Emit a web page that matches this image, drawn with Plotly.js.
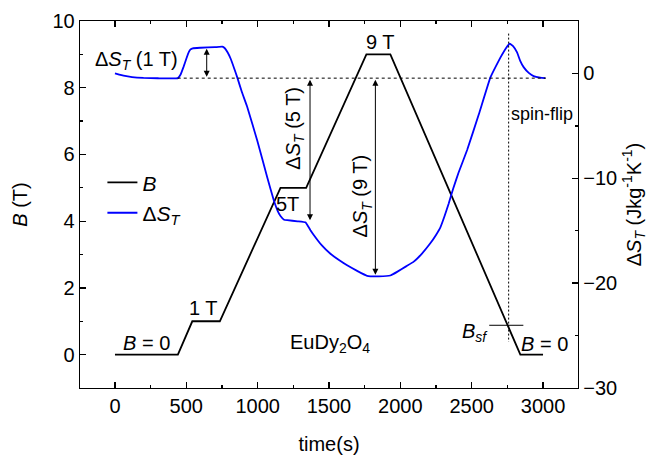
<!DOCTYPE html>
<html>
<head>
<meta charset="utf-8">
<script src="https://cdn.plot.ly/plotly-3.0.1.min.js"></script>
<style>html,body{margin:0;padding:0;background:#fff;}#chart{width:648px;height:458px;}</style>
</head>
<body>
<div id="chart"></div>
<script>
// Magnetic field protocol B(t)
var timeB = [0, 441, 542, 735, 1160, 1340, 1762, 1930, 2841, 3000];
var fieldB = [0, 0, 1, 1, 5, 5, 9, 9, 0, 0];

// Entropy change ΔS_T(t)
var timeS = [0, 30, 60, 120, 200, 300, 441, 460, 480, 500, 518, 530, 545, 600, 700, 752, 770, 790, 811, 835, 857, 890, 927, 997, 1067, 1113, 1140, 1160, 1185, 1207, 1280, 1335, 1350, 1370, 1393, 1450, 1510, 1570, 1627, 1700, 1767, 1850, 1930, 1980, 2040, 2094, 2150, 2210, 2250, 2280, 2310, 2339, 2370, 2407, 2468, 2550, 2631, 2670, 2701, 2740, 2766, 2790, 2818, 2840, 2864, 2900, 2934, 2980, 3016];
var deltaS = [0, -0.12, -0.22, -0.35, -0.43, -0.46, -0.45, -0.1, 0.6, 1.4, 2.05, 2.3, 2.4, 2.45, 2.5, 2.55, 2.4, 2.0, 1.4, 0.5, -0.38, -1.8, -3.2, -6.4, -9.9, -12.1, -13.1, -13.6, -13.95, -14.0, -14.1, -14.2, -14.5, -14.95, -15.4, -16.4, -17.2, -17.8, -18.3, -18.85, -19.3, -19.35, -19.27, -18.9, -18.4, -17.95, -17.2, -16.2, -15.4, -14.7, -13.6, -12.4, -11.0, -9.5, -7.3, -3.9, -0.38, 0.7, 1.5, 2.4, 2.83, 2.6, 2.0, 1.2, 0.6, 0.05, -0.25, -0.4, -0.45];

// Reference levels used by annotation lines/arrows
var baselineS = -0.45;
var arrowTimes = [643, 1367, 1825];
var arrowEndsS = [2.35, -14.0, -19.2];
var spinFlipTime = 2759;
var spinFlipTopS = 3.8;
var spinFlipBottomS = -25.6;
var bSf = 0.88;
var bSfSegment = [2623, 2862];
var dashedRange = [440, 3020];

var FONT = 'Liberation Sans, Arial, sans-serif';

var traces = [
  {x: timeB, y: fieldB, type: 'scatter', mode: 'lines', name: '<i>B</i>',
   line: {color: '#000000', width: 1.8}, yaxis: 'y'},
  {x: timeS, y: deltaS, type: 'scatter', mode: 'lines', name: 'Δ<i>S<sub>T</sub></i>',
   line: {color: '#0000ff', width: 1.8, shape: 'spline', smoothing: 0.3}, yaxis: 'y2'}
];

var annotations = [];
function txt(x, y, text, opts) {
  var a = {x: x, y: y, xref: 'x', yref: 'y', text: text, showarrow: false,
           font: {family: FONT, size: 20, color: '#000'}};
  for (var k in opts) a[k] = opts[k];
  annotations.push(a);
}
txt(150, 8.83, 'Δ<i>S<sub>T</sub></i> (1 T)');
txt(1261, 6.8, 'Δ<i>S<sub>T</sub></i> (5 T)', {textangle: -90});
txt(1731, 4.77, 'Δ<i>S<sub>T</sub></i> (9 T)', {textangle: -90});
txt(1864, 9.37, '9 T');
txt(1212, 4.53, '5T');
txt(617, 1.41, '1 T');
txt(224, 0.36, '<i>B</i> = 0');
txt(1507, 0.33, 'EuDy<sub>2</sub>O<sub>4</sub>');
txt(2990, 7.2, 'spin-flip', {font: {family: FONT, size: 18, color: '#000'}});
txt(2523, 0.66, '<i>B<sub>sf</sub></i>');
txt(3013, 0.33, '<i>B</i> = 0');

for (var i = 0; i < arrowTimes.length; i++) {
  annotations.push({x: arrowTimes[i], y: arrowEndsS[i], xref: 'x', yref: 'y2',
    ax: arrowTimes[i], ay: baselineS, axref: 'x', ayref: 'y2', text: '',
    showarrow: true, arrowhead: 2, arrowside: 'end+start', arrowsize: 1.2,
    arrowwidth: 1, arrowcolor: '#000'});
}

var shapes = [
  {type: 'line', xref: 'x', yref: 'y2', x0: dashedRange[0], x1: dashedRange[1], y0: baselineS, y1: baselineS,
   line: {color: '#000', width: 1, dash: '3px,3px'}},
  {type: 'line', xref: 'x', yref: 'y2', x0: spinFlipTime, x1: spinFlipTime, y0: spinFlipTopS, y1: spinFlipBottomS,
   line: {color: '#000', width: 1, dash: '2px,2px'}},
  {type: 'line', xref: 'x', yref: 'y', x0: bSfSegment[0], x1: bSfSegment[1], y0: bSf, y1: bSf,
   line: {color: '#000', width: 1}}
];

var axisCommon = {showline: true, linecolor: '#000', linewidth: 1.3, ticks: 'inside',
  ticklen: 6, tickwidth: 1.3, tickcolor: '#000', showgrid: false, zeroline: false,
  tickfont: {family: FONT, size: 20, color: '#000'}};

var layout = {
  width: 648, height: 458,
  margin: {l: 80, r: 70, t: 21, b: 70},
  paper_bgcolor: '#fff', plot_bgcolor: '#fff',
  font: {family: FONT, size: 20, color: '#000'},
  showlegend: true,
  legend: {x: 0.045, y: 0.615, xanchor: 'left', yanchor: 'top', bgcolor: 'rgba(0,0,0,0)',
    font: {family: FONT, size: 21, color: '#000'}, tracegroupgap: 0},
  xaxis: Object.assign({}, axisCommon, {range: [-245, 3245], tickvals: [0, 500, 1000, 1500, 2000, 2500, 3000],
    mirror: 'ticks', minor: {dtick: 250, tick0: 0, ticks: 'inside', ticklen: 3, tickcolor: '#000', tickwidth: 1.3},
    title: {text: 'time(s)', font: {family: FONT, size: 20, color: '#000'}, standoff: 20}}),
  yaxis: Object.assign({}, axisCommon, {range: [-1, 10], dtick: 2, tick0: 0,
    minor: {dtick: 1, tick0: 0, ticks: 'inside', ticklen: 3, tickcolor: '#000', tickwidth: 1.3},
    title: {text: '<i>B</i> (T)', font: {family: FONT, size: 20, color: '#000'}, standoff: 19}}),
  yaxis2: Object.assign({}, axisCommon, {overlaying: 'y', side: 'right', range: [-30, 5], dtick: 10, tick0: 0,
    minor: {dtick: 5, tick0: 0, ticks: 'inside', ticklen: 3, tickcolor: '#000', tickwidth: 1.3},
    title: {text: 'Δ<i>S<sub>T</sub></i> (Jkg<sup>-1</sup>K<sup>-1</sup>)', font: {family: FONT, size: 20, color: '#000'}, standoff: 12}}),
  annotations: annotations,
  shapes: shapes
};

Plotly.newPlot('chart', traces, layout, {displayModeBar: false, staticPlot: true});
</script>
</body>
</html>
